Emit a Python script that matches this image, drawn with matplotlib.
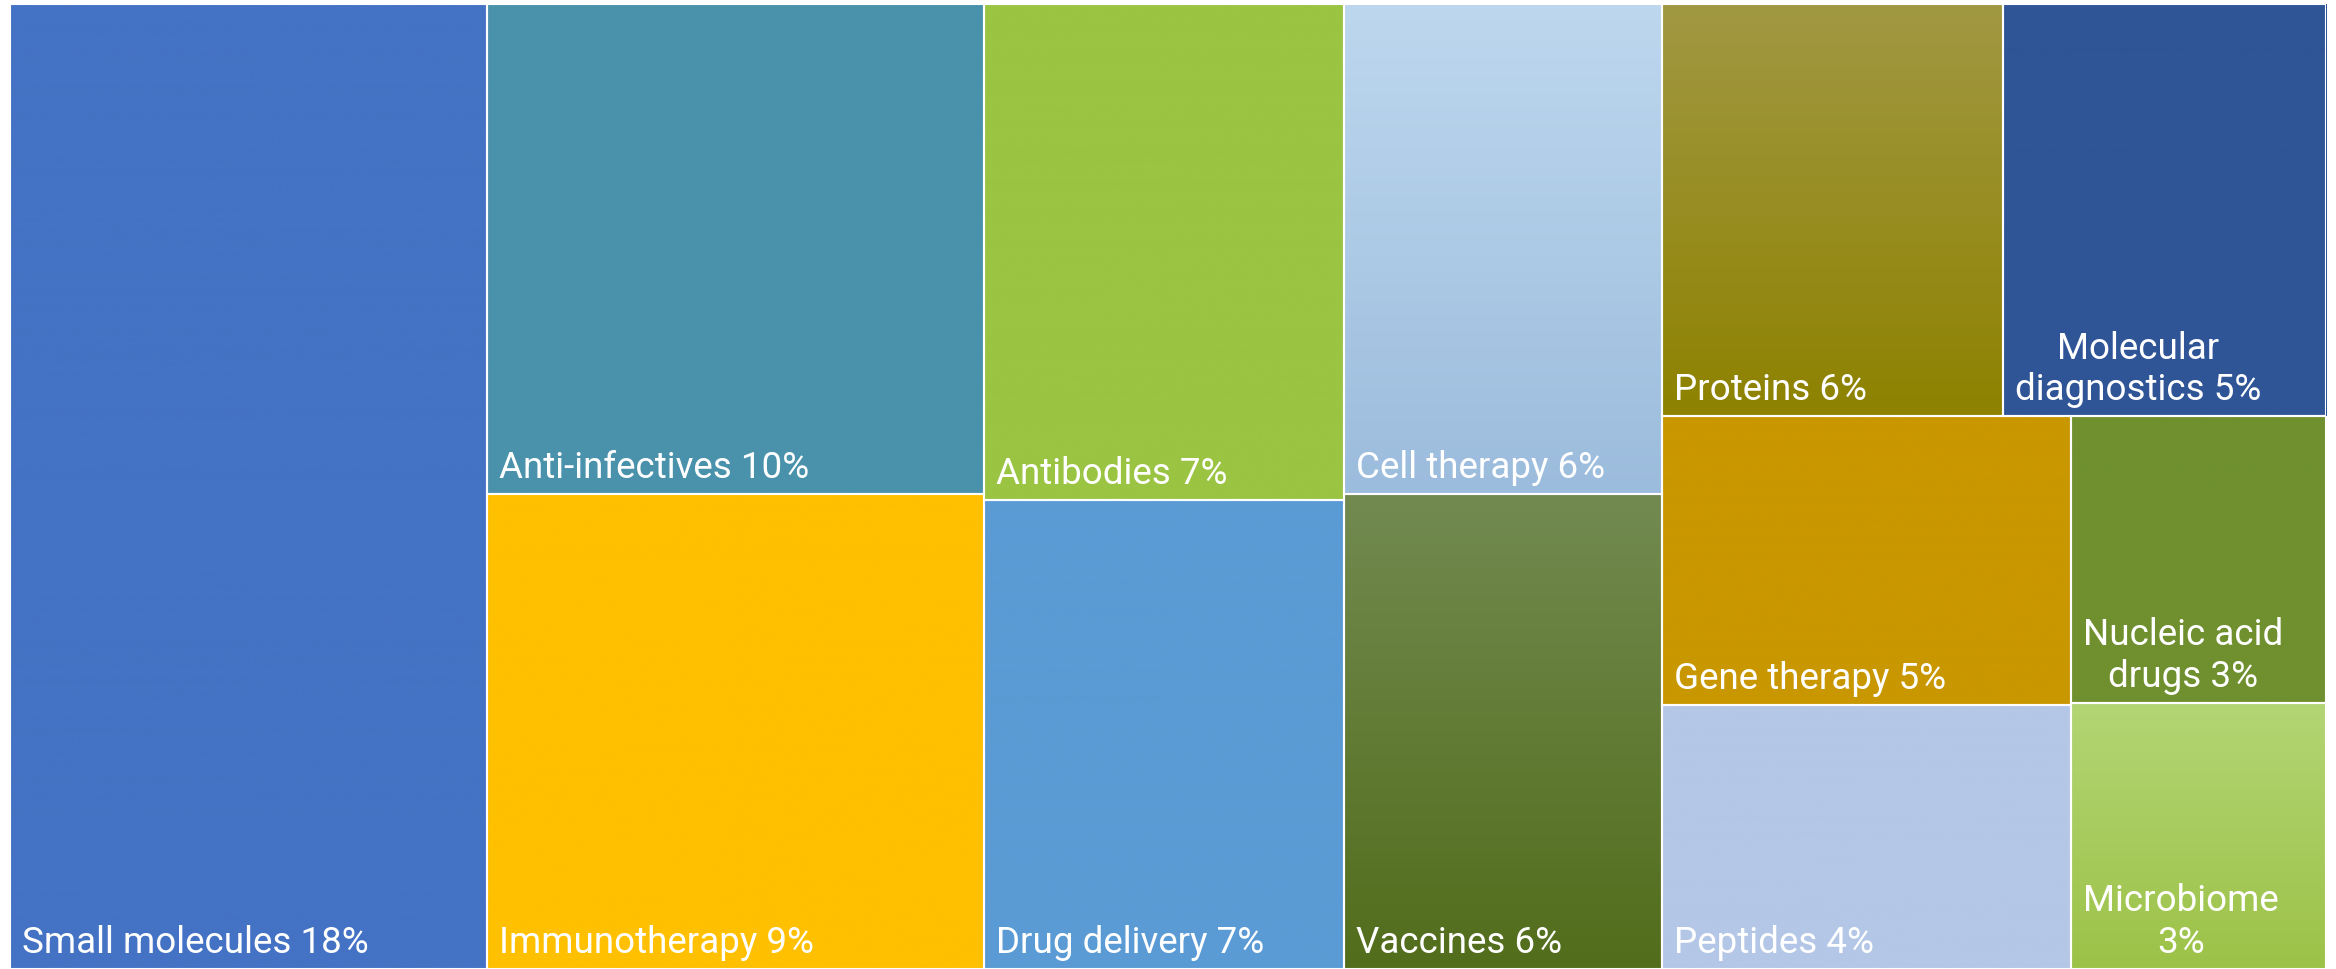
import matplotlib
matplotlib.use("Agg")
import matplotlib.pyplot as plt
from matplotlib.patches import Rectangle
from matplotlib.colors import to_rgb
import numpy as np

# share of each modality (labels show the rounded value)
categories = ["Small molecules", "Anti-infectives", "Immunotherapy",
              "Antibodies", "Drug delivery", "Cell therapy", "Vaccines",
              "Proteins", "Molecular diagnostics", "Gene therapy", "Peptides",
              "Nucleic acid drugs", "Microbiome"]
shares = [18.3, 9.7, 9.4, 7.1, 6.7, 6.2, 6.0, 5.6, 5.3, 4.7, 4.3, 2.9, 2.7]

# fill colours, top and bottom (same colour twice = flat fill)
top_colors = ["#4472C4", "#4A92AB", "#FFC000", "#9AC442", "#5B9BD5",
              "#BDD7EE", "#728A50", "#A19843", "#2F5597", "#C99700",
              "#B4C7E7", "#70902F", "#B3D574"]
bottom_colors = ["#4472C4", "#4A92AB", "#FFC000", "#9AC442", "#5B9BD5",
                 "#9CBCDD", "#526D1B", "#8E8200", "#2F5597", "#C99700",
                 "#B4C7E7", "#70902F", "#9DC248"]

# nesting of the tiles: 'h' = side by side, 'v' = stacked
layout = ("h", [0, ("v", [1, 2]), ("v", [3, 4]), ("v", [5, 6]),
                ("v", [("h", [7, 8]),
                       ("h", [("v", [9, 10]), ("v", [11, 12])])])])


def total(node):
    if isinstance(node, int):
        return shares[node]
    return sum(total(k) for k in node[1])


def place(node, x, y, w, h, out):
    if isinstance(node, int):
        out[node] = (x, y, w, h)
        return
    direction, kids = node
    t = total(node)
    pos = 0.0
    for k in kids:
        f = total(k) / t
        if direction == "h":
            place(k, x + pos * w, y, f * w, h, out)
        else:
            place(k, x, y + pos * h, w, f * h, out)
        pos += f


fig = plt.figure(figsize=(23.36, 9.70), dpi=100)
W, H = 2316, 965
ax = fig.add_axes([10 / 2336, 0, W / 2336, H / 970])
ax.set_axis_off()

rects = {}
place(layout, 0, 0, W, H, rects)

renderer = fig.canvas.get_renderer()
pad = 12
font = dict(family="Roboto", size=26.5, color="white")

for i, name in enumerate(categories):
    x, y, w, h = rects[i]
    # vertical gradient fill
    g = np.linspace(0, 1, 256)[:, None, None]
    c = np.array(to_rgb(top_colors[i]))[None, None, :] * (1 - g) + \
        np.array(to_rgb(bottom_colors[i]))[None, None, :] * g
    ax.imshow(c, extent=(x, x + w, y + h, y), aspect="auto",
              interpolation="bilinear", zorder=1)
    ax.add_patch(Rectangle((x, y), w, h, facecolor="none",
                           edgecolor="white", linewidth=1.5, zorder=2))

    label = f"{name} {round(shares[i])}%"
    t = ax.text(x + pad, y + h - 9, label, ha="left", va="bottom",
                multialignment="center", zorder=3, **font)

    # wrap words if the label is wider than its tile
    def width(s):
        t.set_text(s)
        return t.get_window_extent(renderer).width
    if width(label) > w - 2 * pad:
        lines = []
        cur = ""
        for word in label.split():
            trial = (cur + " " + word).strip()
            if cur and width(trial) > w - 2 * pad:
                lines.append(cur)
                cur = word
            else:
                cur = trial
        lines.append(cur)
        label = "\n".join(lines)
    t.set_text(label)

ax.set_xlim(0, W)
ax.set_ylim(H, 0)

fig.savefig("out.png", dpi=100, facecolor="white")
